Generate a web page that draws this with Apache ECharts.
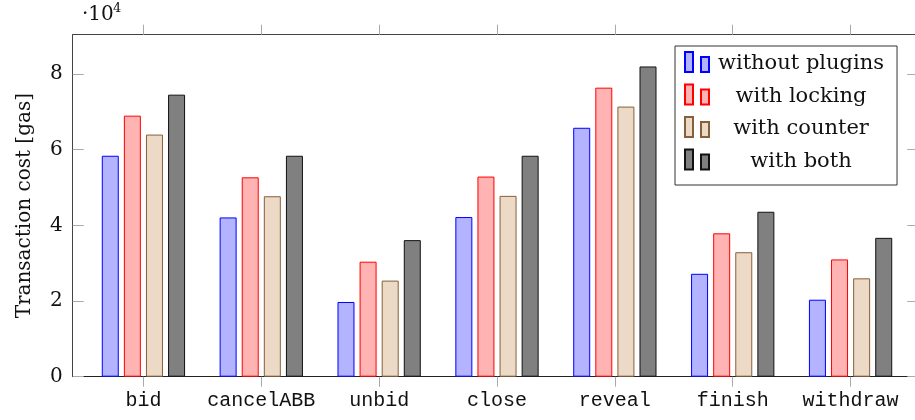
<!DOCTYPE html>
<html><head><meta charset="utf-8">
<script src="https://cdn.jsdelivr.net/npm/echarts@6.0.0/dist/echarts.min.js"></script>
<style>html,body{margin:0;padding:0;background:#fff}#c{width:915px;height:420px}</style>
</head><body><div id="c"></div>
<script>
const categories = ['bid','cancelABB','unbid','close','reveal','finish','withdraw'];
const seriesNames = ['without plugins','with locking','with counter','with both'];
const withoutPlugins = [58400,42100,19750,42200,65800,27200,20350];
const withLocking   = [69000,52700,30400,52900,76400,37900,31000];
const withCounter   = [64000,47700,25400,47800,71400,32900,26000];
const withBoth      = [74550,58400,36100,58400,82000,43600,36700];
const yTickValues = [0,20000,40000,60000,80000];
const yMax = 90400;

const SERIF = 'DejaVu Serif';
const MONO = 'Liberation Mono';
const styles = [
  {color:'#b3b3ff', borderColor:'#0000ff'},
  {color:'#ffb3b3', borderColor:'#ff0000'},
  {color:'#ecd9c6', borderColor:'#86603a'},
  {color:'#808080', borderColor:'#111111'}
];
const allValues = [withoutPlugins, withLocking, withCounter, withBoth];
const catIdx = categories.map((c,i)=>i);

const chart = echarts.init(document.getElementById('c'), null, {renderer:'canvas'});
chart.setOption({
  animation:false,
  grid:{left:72.7, right:-6.3, top:34.7, bottom:43.3, containLabel:false, outerBoundsMode:'none'},
  graphic:[
    {type:'text', left:82, top:5, style:{text:'·10', font:'20px "'+SERIF+'"', fill:'#111'}},
    {type:'text', left:113, top:2, style:{text:'4', font:'13px "'+SERIF+'"', fill:'#111'}}
  ],
  legend:{
    orient:'vertical', left:675, top:46,
    padding:[5,13,13,9], itemGap:9,
    itemWidth:24, itemHeight:20,
    icon:'path://M0,0L8,0L8,20L0,20Z M16,5L24,5L24,20L16,20Z',
    borderColor:'#333', borderWidth:1, backgroundColor:'#fff',
    selectedMode:false,
    formatter: n => '{t|'+n+'}',
    textStyle:{rich:{t:{width:174, align:'center', fontFamily:SERIF, fontSize:21, color:'#111', padding:[4,0,0,0]}}},
    data: seriesNames
  },
  xAxis:[
    {type:'value', position:'bottom', min:-0.6, max:6.6,
     axisLine:{show:true, onZero:false, lineStyle:{color:'#222', width:1}},
     axisTick:{show:true, inside:false, length:10, customValues:catIdx, lineStyle:{color:'#aaa'}},
     axisLabel:{show:true, customValues:catIdx, margin:14, fontFamily:MONO, fontSize:20, color:'#111',
       formatter: v => categories[Math.round(v)]},
     splitLine:{show:false}},
    {type:'value', position:'top', min:-0.6, max:6.6,
     axisLine:{show:true, onZero:false, lineStyle:{color:'#444', width:1}},
     axisTick:{show:true, inside:false, length:10, customValues:catIdx, lineStyle:{color:'#aaa'}},
     axisLabel:{show:false}, splitLine:{show:false}}
  ],
  yAxis:[
    {type:'value', position:'left', min:0, max:yMax,
     name:'Transaction cost [gas]', nameLocation:'middle', nameGap:38, nameRotate:90,
     nameTextStyle:{fontFamily:SERIF, fontSize:20, color:'#111'},
     axisLine:{show:true, onZero:false, lineStyle:{color:'#444', width:1}},
     axisTick:{show:true, inside:true, length:11, customValues:yTickValues, lineStyle:{color:'#aaa'}},
     axisLabel:{show:true, customValues:yTickValues, margin:10, fontFamily:SERIF, fontSize:20, color:'#111',
       formatter: v => String(v/10000)},
     splitLine:{show:false}},
    {type:'value', position:'right', min:0, max:yMax,
     axisLine:{show:true, onZero:false, lineStyle:{color:'#444', width:1}},
     axisTick:{show:true, inside:true, length:14, customValues:yTickValues, lineStyle:{color:'#aaa'}},
     axisLabel:{show:false}, splitLine:{show:false}}
  ],
  series: seriesNames.map((name,s)=>({
    name, type:'bar', xAxisIndex:0, yAxisIndex:0,
    barWidth:17, barGap:'30%',
    itemStyle:{color:styles[s].color, borderColor:styles[s].borderColor, borderWidth:1},
    emphasis:{disabled:true},
    data: categories.map((c,i)=>[i, allValues[s][i]])
  }))
});
</script>
</body></html>
